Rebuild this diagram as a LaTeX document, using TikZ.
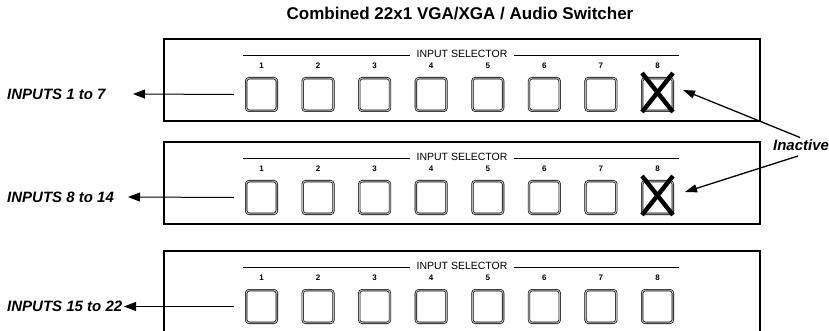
\documentclass[tikz,border=0pt]{standalone}
\usepackage{fontspec}
\setmainfont{Liberation Sans}
\usetikzlibrary{arrows.meta}
\begin{document}
\begin{tikzpicture}[x=1pt,y=-1pt,
 panel/.style={draw=black,line width=1.8pt,minimum width=596pt,minimum height=82pt,anchor=north west,inner sep=0pt},
 btn/.style={draw=black,line width=0.6pt,double=gray!55,double distance=1.1pt,rounded corners=3pt,minimum width=30.7pt,minimum height=32.7pt,inner sep=0pt},
 num/.style={font=\bfseries\fontsize{8}{9}\selectfont,inner sep=0pt},
 sel/.style={font=\fontsize{10.5}{12}\selectfont,inner sep=0pt},
 selline/.style={line width=0.8pt},
 lbl/.style={font=\bfseries\itshape\fontsize{15}{18}\selectfont,anchor=west,inner sep=0pt},
 ttl/.style={font=\bfseries\fontsize{17}{20}\selectfont,inner sep=0pt},
 arr/.style={-{Triangle[length=12pt,width=9pt]},line width=1pt},
 iarr/.style={-{Triangle[length=12pt,width=8pt]},line width=1.3pt},
 xmark/.style={line width=4.4pt}
]
\clip (0,0) rectangle (829,331);
\node[ttl] (title) at (460,14) {Combined 22x1 VGA/XGA / Audio Switcher};
\foreach \r/\t in {1/38,2/141,3/250}{
  \node[panel] (p\r) at (163,\t) {};
  \draw[selline] (243,\t+17) -- (410,\t+17);
  \node[sel] (s\r) at (462,\t+16) {INPUT SELECTOR};
  \draw[selline] (514,\t+17) -- (679,\t+17);
  \foreach \i in {1,...,8}{
    \node[btn] (b\r\i) at ({261.5+56.57*(\i-1)},\t+56.5) {};
    \node[num] (n\r\i) at ({261.5+56.57*(\i-1)},\t+28) {\i};
  }
}
% X marks on inactive buttons
\foreach \r in {1,2}{
  \draw[xmark] ([shift={(-15.5,-21.5)}]b\r8.center) -- ([shift={(15.5,17.5)}]b\r8.center);
  \draw[xmark] ([shift={(15.5,-21.5)}]b\r8.center) -- ([shift={(-15.5,17.5)}]b\r8.center);
}
% input labels and arrows
\node[lbl] (in1) at (7,94) {INPUTS 1 to 7};
\node[lbl] (in2) at (7,197) {INPUTS 8 to 14};
\node[lbl] (in3) at (7,306.5) {INPUTS 15 to 22};
\coordinate (t1) at (133,94);
\coordinate (t2) at (128,197);
\coordinate (t3) at (124,306.5);
\draw[arr] ([xshift=-12pt]b11.west) -- (t1);
\draw[arr] ([xshift=-12pt]b21.west) -- (t2);
\draw[arr] ([xshift=-12pt]b31.west) -- (t3);
% inactive
\node[lbl,anchor=center] (ina) at (801,145) {Inactive};
\coordinate (ia1) at (683,90);
\coordinate (ia2) at (685,192);
\draw[iarr] (800,137.5) -- (ia1);
\draw[iarr] (798,156) -- (ia2);
\end{tikzpicture}
\end{document}
